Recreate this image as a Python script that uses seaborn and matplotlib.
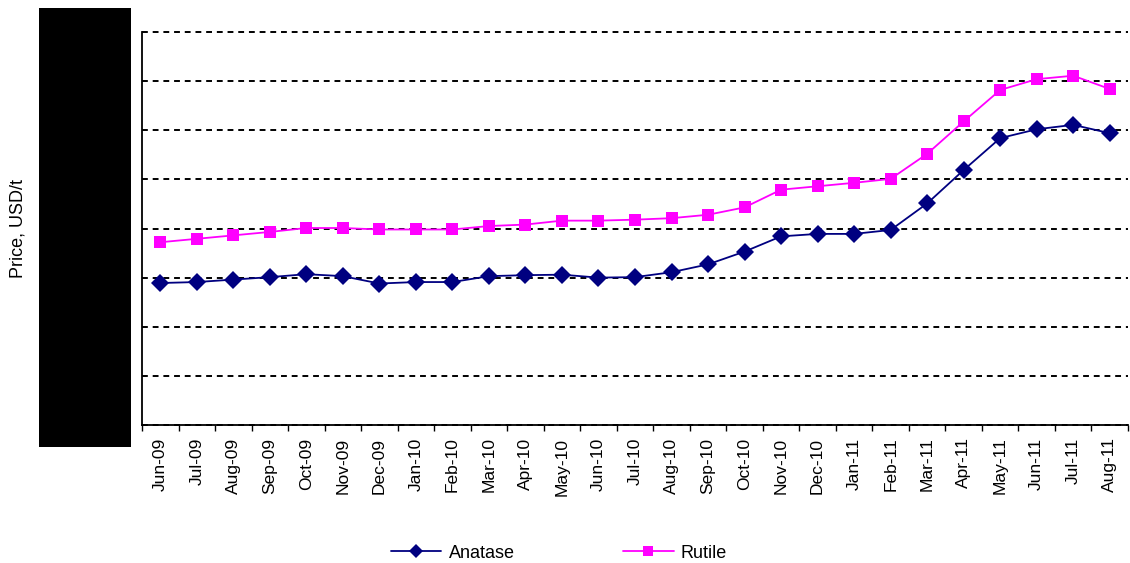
import numpy as np
import pandas as pd
import matplotlib
matplotlib.use("Agg")
import matplotlib.pyplot as plt
from matplotlib.ticker import FixedLocator, MultipleLocator
from matplotlib.patches import Rectangle
import seaborn as sns

# Monthly TiO2 prices, USD/t
months = ["Jun-09", "Jul-09", "Aug-09", "Sep-09", "Oct-09", "Nov-09", "Dec-09",
          "Jan-10", "Feb-10", "Mar-10", "Apr-10", "May-10", "Jun-10", "Jul-10",
          "Aug-10", "Sep-10", "Oct-10", "Nov-10", "Dec-10", "Jan-11", "Feb-11",
          "Mar-11", "Apr-11", "May-11", "Jun-11", "Jul-11", "Aug-11"]
anatase = [1445, 1455, 1480, 1505, 1535, 1515, 1440, 1455, 1455, 1515, 1525,
           1530, 1500, 1505, 1555, 1635, 1765, 1920, 1945, 1945, 1985, 2255,
           2595, 2920, 3010, 3055, 2970]
rutile = [1860, 1895, 1930, 1965, 2005, 2005, 1990, 1990, 1990, 2025, 2040,
          2080, 2080, 2090, 2105, 2140, 2215, 2395, 2430, 2465, 2505, 2760,
          3090, 3410, 3520, 3555, 3420]

df = pd.DataFrame({
    "month": months * 2,
    "price": anatase + rutile,
    "grade": ["Anatase"] * len(months) + ["Rutile"] * len(months),
})

sns.set_style("white")
plt.rcParams["font.family"] = ["Liberation Sans", "DejaVu Sans"]
plt.rcParams["text.color"] = "black"
plt.rcParams["xtick.color"] = "black"
plt.rcParams["ytick.color"] = "black"

fig = plt.figure(figsize=(11.3, 5.63), dpi=100)
ax = fig.add_axes([142 / 1130, 1 - 425 / 563, 986 / 1130, 393 / 563])

palette = {"Anatase": "#000080", "Rutile": "#FF00FF"}
markers = {"Anatase": "D", "Rutile": "s"}
sns.lineplot(data=df, x="month", y="price", hue="grade", style="grade",
             palette=palette, markers=markers, dashes=False, sort=False,
             linewidth=1.3, markersize=9, markeredgewidth=0, ax=ax)

ax.set_xlim(-0.5, len(months) - 0.5)
ax.set_ylim(0, 4000)
ax.yaxis.set_major_locator(MultipleLocator(500))
ax.yaxis.grid(True, linestyle=(0, (3, 2.5)), color="black", linewidth=1.4)
ax.xaxis.grid(False)
ax.set_axisbelow(True)

ax.set_xticks(range(len(months)))
ax.set_xticklabels(months, rotation=90, fontsize=12.5, color="black")
ax.xaxis.set_minor_locator(FixedLocator(np.arange(-0.5, len(months), 1)))
ax.tick_params(axis="x", which="major", length=0, pad=9)
ax.tick_params(axis="x", which="minor", length=4, width=1, color="black",
               direction="out", bottom=True)
ax.tick_params(axis="y", left=False, labelleft=False)

for side in ("top", "right"):
    ax.spines[side].set_visible(False)
for side in ("left", "bottom"):
    ax.spines[side].set_color("black")
    ax.spines[side].set_linewidth(1.3)

ax.set_xlabel("")
ax.set_ylabel("")

fig.canvas.draw()
for gl in ax.get_ygridlines():
    gl.set_clip_on(False)

fig.text(18 / 1130, 1 - 229 / 563, "Price, USD/t", rotation=90,
         ha="center", va="center", fontsize=13, color="black")

handles, labels = ax.get_legend_handles_labels()
ax.legend_.remove()
fig.legend(handles, labels, loc="center", ncol=2, frameon=False,
           bbox_to_anchor=(559 / 1130, 1 - 553 / 563), fontsize=13,
           handlelength=2.8, handletextpad=0.4, columnspacing=6.0,
           markerscale=0.75, labelcolor="black")

# Panel covering the value axis
fig.patches.append(Rectangle((39 / 1130, 1 - 447 / 563), 92 / 1130, 439 / 563,
                             transform=fig.transFigure, facecolor="black",
                             edgecolor="none", zorder=5))

fig.savefig("out.png", dpi=100)
